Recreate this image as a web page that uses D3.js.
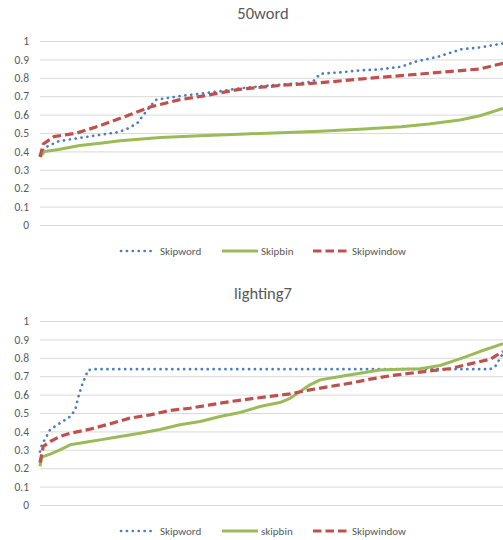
<!DOCTYPE html>
<html><head><meta charset="utf-8">
<script src="https://cdn.jsdelivr.net/npm/d3@7"></script>
<style>body{margin:0;background:#fff}svg{display:block}</style>
</head><body>
<svg id="c" width="503" height="540"></svg>
<script>
const yTicks = [0,0.1,0.2,0.3,0.4,0.5,0.6,0.7,0.8,0.9,1];
const seriesNames1 = ["Skipword","Skipbin","Skipwindow"];
const seriesNames2 = ["Skipword","skipbin","Skipwindow"];
const titles = ["50word","lighting7"];

// [rank (% of samples), accuracy]
const word50_skipword = [[0,0.38],[1,0.42],[4,0.455],[6,0.463],[9,0.475],[13,0.49],[17,0.505],[19,0.525],[21,0.553],[23,0.62],[25,0.68],[30,0.70],[35,0.715],[39,0.728],[43,0.742],[48,0.755],[52,0.763],[56,0.77],[59,0.78],[60.5,0.822],[65,0.83],[69,0.84],[73,0.845],[78,0.86],[81,0.887],[86,0.915],[91,0.955],[95,0.965],[100,0.987]];
const word50_skipbin = [[0,0.37],[1,0.40],[4,0.41],[8.6,0.432],[13,0.444],[17.3,0.458],[26,0.476],[34.6,0.485],[43,0.493],[52,0.502],[60.5,0.51],[69,0.52],[78,0.534],[84,0.549],[90.7,0.571],[95,0.594],[100,0.634]];
const word50_skipwindow = [[0,0.37],[0.7,0.44],[3,0.48],[8,0.5],[13,0.54],[19.5,0.6],[24,0.643],[30,0.68],[35,0.70],[43,0.737],[52,0.759],[60.5,0.773],[69,0.793],[78,0.812],[86.5,0.83],[95,0.848],[100,0.879]];

const l7_skipword = [[0,0.29],[0.4,0.327],[2.2,0.41],[4.3,0.445],[6.5,0.48],[7.6,0.517],[8.2,0.58],[9.1,0.653],[10.4,0.734],[12,0.738],[97.2,0.738],[98.3,0.752],[100,0.825]];
const l7_skipbin = [[0,0.21],[0.4,0.26],[2.2,0.277],[4.3,0.30],[6.5,0.327],[10.8,0.345],[13,0.354],[17.3,0.372],[21.6,0.39],[25.9,0.41],[30.2,0.436],[34.6,0.454],[38.9,0.481],[43.2,0.503],[47.5,0.535],[51.8,0.557],[54,0.58],[56.2,0.617],[58.3,0.653],[60.5,0.68],[64.8,0.698],[69.1,0.716],[73.4,0.734],[77.8,0.738],[82.1,0.741],[86.4,0.758],[90.7,0.794],[95,0.834],[100,0.877]];
const l7_skipwindow = [[0,0.23],[0.7,0.318],[2.2,0.345],[4.3,0.372],[6.5,0.39],[10.8,0.412],[15.1,0.441],[19.4,0.472],[23.8,0.49],[28.1,0.514],[32.4,0.526],[36.7,0.544],[41,0.562],[45.4,0.577],[49.7,0.59],[54,0.604],[58.3,0.626],[62.6,0.644],[67,0.662],[71.3,0.684],[75.6,0.702],[79.9,0.716],[84.2,0.729],[88.6,0.741],[92.9,0.767],[97.2,0.792],[100,0.834]];

const colors = ["#4a7ebf","#9bbb59","#c0504d"];
const styles = [
  {w:2.7, dash:"0.1 5.8", cap:"round"},
  {w:3, dash:null, cap:"butt"},
  {w:3.2, dash:"8.5 4", cap:"butt"}
];

const charts = [
  {title:titles[0], names:seriesNames1, data:[word50_skipword,word50_skipbin,word50_skipwindow], top:41, bottom:225, titleY:19, legY:251},
  {title:titles[1], names:seriesNames2, data:[l7_skipword,l7_skipbin,l7_skipwindow], top:321, bottom:505, titleY:299, legY:531}
];

const svg = d3.select("#c");
const font = "Calibri, Carlito, Lato, 'Liberation Sans', Arial, sans-serif";
const x = d3.scaleLinear().domain([0,100]).range([40,503]);

charts.forEach((ch,ci)=>{
  const g = svg.append("g");
  const y = d3.scaleLinear().domain([0,1]).range([ch.bottom, ch.top]);
  g.append("text").attr("x",263).attr("y",ch.titleY).attr("text-anchor","middle")
    .attr("font-family",font).attr("font-size",16.5).attr("fill","#595959").text(ch.title);
  const ax = d3.axisLeft(y).tickValues(yTicks).tickSize(-(503-40)).tickPadding(11)
    .tickFormat(d=>d3.format("")(+d.toFixed(1)));
  const axg = g.append("g").attr("transform","translate(40,0)").call(ax);
  axg.select(".domain").remove();
  axg.selectAll(".tick line").attr("stroke","#d9d9d9").attr("stroke-width",1);
  axg.selectAll(".tick text").attr("font-family",font).attr("font-size",11.5).attr("fill","#595959");
  const line = d3.line().x(d=>x(d[0])).y(d=>y(d[1]));
  ch.data.forEach((s,si)=>{
    g.append("path").datum(s).attr("d",line).attr("fill","none")
      .attr("stroke",colors[si]).attr("stroke-width",styles[si].w)
      .attr("stroke-dasharray",styles[si].dash).attr("stroke-linecap",styles[si].cap)
      .attr("stroke-linejoin","round");
  });
  const legX = [[121,155,160],[222,258,261],[313,348,352]];
  ch.names.forEach((n,si)=>{
    g.append("line").attr("x1",legX[si][0]).attr("x2",legX[si][1]).attr("y1",ch.legY).attr("y2",ch.legY)
      .attr("stroke",colors[si]).attr("stroke-width",styles[si].w)
      .attr("stroke-dasharray",styles[si].dash).attr("stroke-linecap",styles[si].cap);
    g.append("text").attr("x",legX[si][2]).attr("y",ch.legY+4).attr("font-family",font)
      .attr("font-size",11).attr("fill","#595959").text(n);
  });
});
</script>
</body></html>
